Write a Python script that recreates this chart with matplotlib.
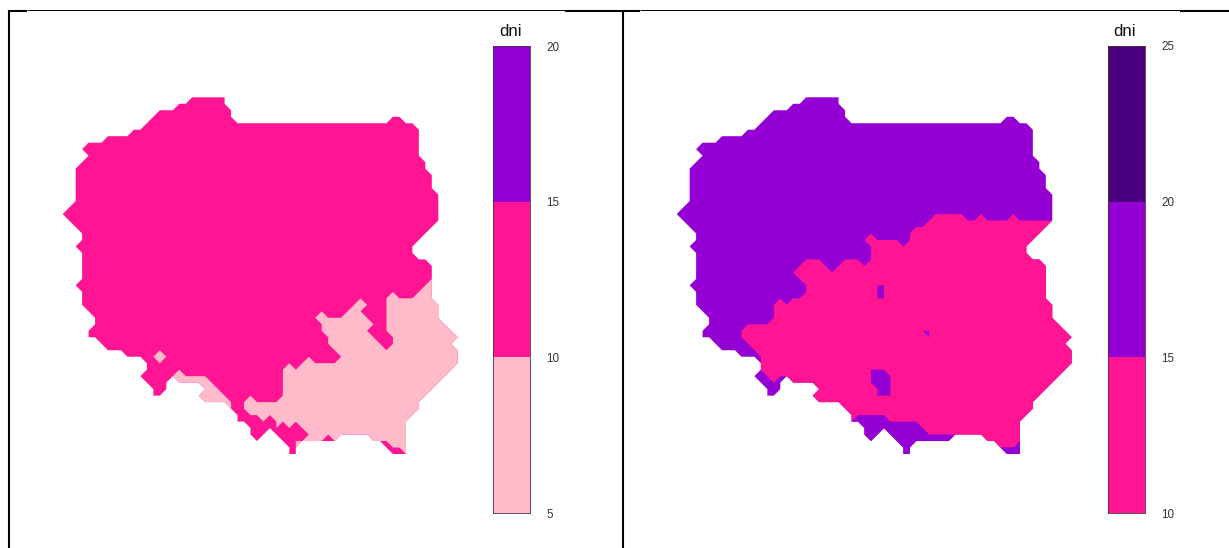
import numpy as np
import matplotlib
matplotlib.use("Agg")
import matplotlib.pyplot as plt
from matplotlib.lines import Line2D

plt.rcParams["font.family"] = ["Liberation Sans", "DejaVu Sans"]

N_ROWS = 56
N_COLS = 62

# grid cells that hold data, one entry per row: (first column, last column)
poland_rows = [
    [(20, 25)], [(18, 25)], [(15, 26)], [(14, 26), (51, 52)], [(13, 54)],
    [(11, 55)], [(7, 55)], [(4, 55)], [(3, 55)], [(4, 55)],
    [(3, 56)], [(2, 56)], [(2, 57)], [(2, 57)], [(2, 57)],
    [(2, 58)], [(2, 58)], [(1, 58)], [(0, 58)], [(1, 58)],
    [(2, 57)], [(3, 56)], [(3, 55)], [(2, 54)], [(3, 54)],
    [(3, 56)], [(3, 57)], [(3, 57)], [(3, 57)], [(2, 57)],
    [(3, 57)], [(3, 57)], [(3, 58)], [(4, 58)], [(5, 58)],
    [(5, 59)], [(4, 60)], [(4, 61)], [(6, 60)], [(7, 61)],
    [(10, 61)], [(13, 61)], [(13, 60)], [(12, 59)], [(13, 16), (18, 58)],
    [(14, 16), (22, 57)], [(14, 15), (21, 56)], [(22, 55)], [(26, 55)], [(27, 54)],
    [(27, 53)], [(29, 53)], [(29, 31), (33, 53)], [(30, 30), (34, 42), (48, 53)],
    [(35, 36), (50, 53)], [(35, 36), (51, 53)],
]

# left map: cells in the 5-10 class, then 10-15 spots lying inside them
left_low_rows = {
    28: [(57, 57)], 29: [(56, 61)], 30: [(51, 51), (55, 61)],
    31: [(46, 46), (50, 61)], 32: [(45, 47), (50, 61)],
    33: [(40, 40), (44, 46), (50, 61)], 34: [(39, 47), (50, 61)],
    35: [(40, 48), (50, 61)], 36: [(40, 47), (50, 61)],
    37: [(41, 48), (51, 61)], 38: [(41, 49), (51, 61)],
    39: [(15, 15), (42, 61)], 40: [(14, 16), (38, 38), (43, 61)],
    41: [(15, 15), (35, 35), (37, 61)], 42: [(18, 18), (34, 61)],
    43: [(17, 22), (34, 61)], 44: [(18, 23), (34, 61)],
    45: [(22, 24), (34, 61)], 46: [(21, 25), (29, 29), (34, 61)],
    47: [(22, 26), (28, 61)], 48: [(26, 26), (28, 61)], 49: [(29, 61)],
    50: [(31, 31), (33, 61)], 51: [(33, 33), (35, 35), (37, 61)],
    52: [(38, 61)], 53: [(36, 42), (48, 61)], 54: [(36, 36), (51, 61)],
    55: [(53, 61)],
}
left_mid_spots = {52: [(41, 41)], 53: [(40, 42)]}

# right map: cells in the 10-15 class, then 15-20 spots lying inside them
right_low_rows = {
    18: [(40, 44), (47, 47), (52, 52)], 19: [(39, 61)], 20: [(37, 61)],
    21: [(30, 30), (36, 61)], 22: [(29, 34), (36, 61)], 23: [(30, 61)],
    24: [(30, 61)], 25: [(20, 22), (26, 28), (30, 61)],
    26: [(19, 23), (25, 61)], 27: [(18, 61)], 28: [(19, 61)],
    29: [(20, 61)], 30: [(20, 61)], 31: [(16, 16), (18, 61)],
    32: [(15, 61)], 33: [(15, 61)], 34: [(15, 61)], 35: [(11, 61)],
    36: [(10, 61)], 37: [(10, 61)], 38: [(11, 61)], 39: [(12, 61)],
    40: [(13, 61)], 41: [(13, 61)], 42: [(13, 61)], 43: [(14, 61)],
    44: [(15, 15), (18, 61)], 45: [(22, 61)], 46: [(21, 61)],
    47: [(22, 61)], 48: [(26, 61)], 49: [(27, 61)], 50: [(27, 61)],
    51: [(27, 61)], 52: [(27, 61)], 53: [(27, 61)], 54: [(27, 61)],
}
right_mid_spots = {
    29: [(31, 32)], 30: [(31, 32)], 31: [(31, 32)],
    36: [(38, 39)], 37: [(39, 39)],
    42: [(30, 32)], 43: [(30, 33)], 44: [(30, 33)], 45: [(31, 33)], 46: [(31, 33)],
    49: [(28, 32)], 50: [(27, 37)], 51: [(27, 38)], 52: [(27, 43)],
    53: [(27, 42), (53, 53)], 54: [(27, 40), (50, 53)], 55: [(27, 40), (51, 53)],
}

left_breaks = [5, 10, 15, 20]
left_colors = ["#FFBBC9", "#FF1493", "#9400D3"]
right_breaks = [10, 15, 20, 25]
right_colors = ["#FF1493", "#9400D3", "#4B0082"]


def rows_to_grid(rows):
    grid = np.zeros((N_ROWS, N_COLS), dtype=bool)
    items = enumerate(rows) if isinstance(rows, list) else rows.items()
    for r, spans in items:
        for start, end in spans:
            grid[r, start:end + 1] = True
    return grid


def draw_class(ax, rows, mask, low, high, color):
    # one filled layer per class, so the edges run through the grid nodes
    cells = rows_to_grid(rows) & mask
    z = np.ma.masked_where(~cells, np.full(cells.shape, (low + high) / 2))
    ax.contourf(
        np.arange(N_COLS), np.arange(N_ROWS), z,
        levels=[low, high], colors=[color], corner_mask=True, antialiased=True,
    )


def px_axes(fig, x0, y0, x1, y1):
    w, h = fig.get_size_inches() * fig.dpi
    return fig.add_axes([x0 / w, 1 - y1 / h, (x1 - x0) / w, (y1 - y0) / h])


def draw_map(fig, x0, layers):
    ax = px_axes(fig, x0, 97.3, x0 + 395, 454)
    mask = rows_to_grid(poland_rows)
    for rows, low, high, color in layers:
        draw_class(ax, rows, mask, low, high, color)
    ax.set_xlim(0, N_COLS - 1)
    ax.set_ylim(N_ROWS - 1, 0)
    ax.axis("off")


def draw_legend(fig, x0, breaks, colors):
    ax = px_axes(fig, x0, 46, x0 + 36.5, 513)
    for i, color in enumerate(colors):
        ax.bar(0.5, breaks[i + 1] - breaks[i], width=1, bottom=breaks[i], color=color, linewidth=0)
    ax.set_xlim(0, 1)
    ax.set_ylim(breaks[0], breaks[-1])
    ax.set_xticks([])
    ax.yaxis.tick_right()
    ax.set_yticks(breaks)
    ax.set_yticklabels([str(b) for b in breaks], fontsize=8.4, color="#333333")
    ax.tick_params(axis="y", length=0, pad=12)
    for spine in ax.spines.values():
        spine.set_linewidth(0.6)
        spine.set_color("#4a3040")
    ax.set_title("dni", fontsize=12.2, pad=7.5, x=0.46, color="#111111")


def frame_line(fig, x0, y0, x1, y1, lw):
    w, h = fig.get_size_inches() * fig.dpi
    fig.add_artist(Line2D([x0 / w, x1 / w], [1 - y0 / h, 1 - y1 / h], color="black", linewidth=lw, solid_capstyle="butt"))


def main():
    fig = plt.figure(figsize=(12.29, 5.48), dpi=100)

    draw_map(fig, 62.7, [
        (poland_rows, 10, 15, left_colors[1]),
        (left_low_rows, 5, 10, left_colors[0]),
        (left_mid_spots, 10, 15, left_colors[1]),
    ])
    draw_map(fig, 676.7, [
        (poland_rows, 15, 20, right_colors[1]),
        (right_low_rows, 10, 15, right_colors[0]),
        (right_mid_spots, 15, 20, right_colors[1]),
    ])
    draw_legend(fig, 493.5, left_breaks, left_colors)
    draw_legend(fig, 1108, right_breaks, right_colors)

    # table borders around the two pictures
    frame_line(fig, 9, 10, 9, 548, 1.5)
    frame_line(fig, 623, 10, 623, 548, 1.5)
    frame_line(fig, 27, 10, 565, 10, 0.7)
    frame_line(fig, 640, 10, 1180, 10, 0.7)
    frame_line(fig, 8, 10.5, 27, 10.5, 1.5)
    frame_line(fig, 565, 10.5, 640, 10.5, 1.5)
    frame_line(fig, 1180, 10.5, 1229, 10.5, 1.5)

    fig.savefig("out.png", dpi=100)
    plt.close(fig)


if __name__ == "__main__":
    main()
